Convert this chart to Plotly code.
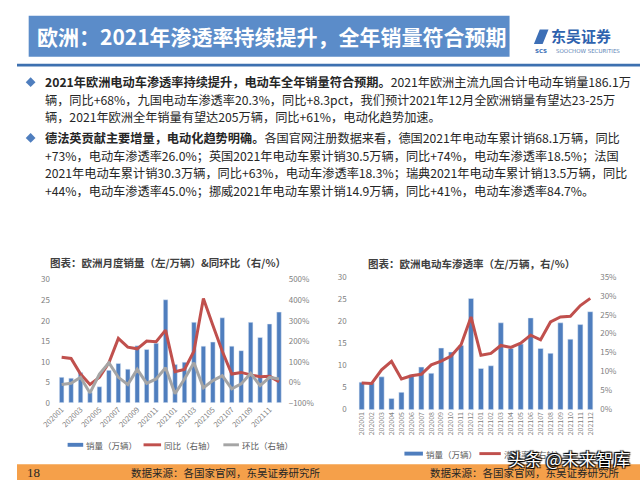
import plotly.graph_objects as go

W, H = 640, 485
def X(px): return px / W
def Y(py): return 1 - py / H

months = ["202001","202002","202003","202004","202005","202006","202007","202008","202009","202010","202011","202012",
          "202101","202102","202103","202104","202105","202106","202107","202108","202109","202110","202111","202112"]
sales = [6.2, 6.0, 7.4, 2.5, 3.9, 7.9, 9.6, 8.2, 13.9, 13.0, 14.5, 25.1,
         9.3, 9.9, 19.6, 13.8, 14.8, 20.7, 13.8, 12.7, 19.6, 15.9, 19.2, 22.1]
yoy = [122, 116, 40, -11, 24, 95, 214, 171, 163, 201, 198, 254,
       52, 63, 151, 408, 278, 151, 40, 48, 36, 27, 29, 3]
mom = [-11, -5, 24, -52, 40, 95, 24, -11, 63, -5, 16, 71,
       -56, 16, 95, -27, 8, 32, -32, -8, 43, -16, 24, 16]
penetration = [7.0, 6.9, 10.5, 12.7, 8.1, 8.9, 9.3, 11.8, 12.8, 14.1, 17.1, 24.4,
               14.3, 14.8, 16.9, 16.4, 17.5, 19.6, 18.4, 23.1, 24.4, 24.6, 27.4, 29.3]

left_ticks = months[::2]

BLUE = "#4F7EBE"
RED = "#C0504D"
GRAY = "#A5A5A5"
TICK = "#7F7F7F"
FONT = "Noto Sans CJK SC"

fig = go.Figure()
# left chart
fig.add_trace(go.Bar(x=months, y=sales, marker_color=BLUE, width=0.48, xaxis="x", yaxis="y", name="销量（万辆）"))
fig.add_trace(go.Scatter(x=months, y=yoy, mode="lines", line=dict(color=RED, width=3), xaxis="x", yaxis="y2", name="同比（右轴）"))
fig.add_trace(go.Scatter(x=months, y=mom, mode="lines", line=dict(color=GRAY, width=3), xaxis="x", yaxis="y2", name="环比（右轴）"))
# right chart
fig.add_trace(go.Bar(x=months, y=sales, marker_color=BLUE, width=0.52, xaxis="x2", yaxis="y3", name="销量（万辆）"))
fig.add_trace(go.Scatter(x=months, y=penetration, mode="lines", line=dict(color=RED, width=3), xaxis="x2", yaxis="y4", name="渗透率（右轴）"))

def ax(size=8):
    return dict(showgrid=False, zeroline=False, showline=False, ticks="",
                tickfont=dict(size=size, color=TICK, family=FONT))

fig.update_layout(
    width=W, height=H, autosize=False,
    margin=dict(l=0, r=0, t=0, b=0),
    paper_bgcolor="white", plot_bgcolor="rgba(0,0,0,0)",
    showlegend=False,
    font=dict(family=FONT, color="#333333"),
    xaxis=dict(domain=[X(41), X(274)], anchor="y", type="category", tickmode="array", tickvals=left_ticks,
               tickangle=-45, **ax(7.5)),
    yaxis=dict(domain=[Y(406), Y(280)], range=[0, 30], dtick=5, anchor="x", ticklabelstandoff=6, **ax(8)),
    yaxis2=dict(overlaying="y", side="right", range=[-100, 500], dtick=100, ticksuffix="%", anchor="x",
                ticklabelstandoff=4, **ax(8)),
    xaxis2=dict(domain=[X(349), X(594)], anchor="y3", type="category", tickmode="array", tickvals=months,
                tickangle=-90, **ax(7)),
    yaxis3=dict(domain=[Y(413), Y(277)], range=[0, 30], dtick=5, anchor="x2", ticklabelstandoff=9, **ax(8)),
    yaxis4=dict(overlaying="y3", side="right", range=[0, 35], dtick=5, ticksuffix="%", anchor="x2",
                ticklabelstandoff=4, **ax(8)),
)

shapes = []
annos = []

# title bar
shapes.append(dict(type="rect", xref="paper", yref="paper", x0=X(12), x1=X(506), y0=Y(52), y1=Y(10),
                   fillcolor="#5B8CC9", line=dict(width=0), layer="below"))
annos.append(dict(text="<b>欧洲：2021年渗透率持续提升，全年销量符合预期</b>", x=X(18), y=Y(31), xref="paper", yref="paper",
                  xanchor="left", yanchor="middle", showarrow=False, font=dict(size=21, color="white", family=FONT)))
# line under header
shapes.append(dict(type="rect", xref="paper", yref="paper", x0=0, x1=1, y0=Y(62), y1=Y(59),
                   fillcolor="#3D70B0", line=dict(width=0)))
# logo
shapes.append(dict(type="path", xref="paper", yref="paper",
                   path=f"M {X(531)} {Y(39)} L {X(537)} {Y(24)} L {X(546)} {Y(24)} L {X(540)} {Y(39)} Z",
                   fillcolor="#3D6FB6", line=dict(width=0)))
annos.append(dict(text="<b>东吴证券</b>", x=X(547), y=Y(30), xref="paper", yref="paper", xanchor="left", yanchor="middle",
                  showarrow=False, font=dict(size=15, color="#2E62AE", family=FONT)))
annos.append(dict(text="SOOCHOW SECURITIES", x=X(552), y=Y(46), xref="paper", yref="paper", xanchor="left", yanchor="middle",
                  showarrow=False, font=dict(size=5.5, color="#5B7FB5", family="DejaVu Sans")))
annos.append(dict(text="<b>SCS</b>", x=X(530), y=Y(46), xref="paper", yref="paper", xanchor="left", yanchor="middle",
                  showarrow=False, font=dict(size=5.5, color="#3D6FB6", family="DejaVu Sans")))

# bullets
lines = [
    (78, "<b>2021年欧洲电动车渗透率持续提升，电动车全年销量符合预期。</b>2021年欧洲主流九国合计电动车销量186.1万"),
    (96, "辆，同比+68%，九国电动车渗透率20.3%，同比+8.3pct，我们预计2021年12月全欧洲销量有望达23-25万"),
    (114, "辆，2021年欧洲全年销量有望达205万辆，同比+61%，电动化趋势加速。"),
    (135, "<b>德法英贡献主要增量，电动化趋势明确。</b>各国官网注册数据来看，德国2021年电动车累计销68.1万辆，同比"),
    (153, "+73%，电动车渗透率26.0%；英国2021年电动车累计销30.5万辆，同比+74%，电动车渗透率18.5%；法国"),
    (171, "2021年电动车累计销30.3万辆，同比+63%，电动车渗透率18.3%；瑞典2021年电动车累计销13.5万辆，同比"),
    (189, "+44%，电动车渗透率45.0%；挪威2021年电动车累计销14.9万辆，同比+41%，电动车渗透率84.7%。"),
]
for yy, t in lines:
    annos.append(dict(text=t, x=X(27), y=Y(yy), xref="paper", yref="paper", xanchor="left", yanchor="middle",
                      showarrow=False, font=dict(size=12.2, color="#262626", family=FONT)))
for yy in (78, 135):
    cx, cy = 14, yy
    shapes.append(dict(type="path", xref="paper", yref="paper",
                       path=f"M {X(cx-5)} {Y(cy)} L {X(cx)} {Y(cy-5)} L {X(cx+5)} {Y(cy)} L {X(cx)} {Y(cy+5)} Z",
                       fillcolor="#4F7EBE", line=dict(width=0)))

# chart titles
annos.append(dict(text="<b>图表：欧洲月度销量（左/万辆）&同环比（右/%）</b>", x=X(155), y=Y(262), xref="paper", yref="paper",
                  xanchor="center", yanchor="middle", showarrow=False, font=dict(size=10.5, color="#404040", family=FONT)))
annos.append(dict(text="<b>图表：欧洲电动车渗透率（左/万辆，右/%）</b>", x=X(467), y=Y(263), xref="paper", yref="paper",
                  xanchor="center", yanchor="middle", showarrow=False, font=dict(size=10.5, color="#404040", family=FONT)))

# manual legends
def legend_item(x0, x1, y, color, thick, label):
    shapes.append(dict(type="rect", xref="paper", yref="paper", x0=X(x0), x1=X(x1), y0=Y(y + thick / 2), y1=Y(y - thick / 2),
                       fillcolor=color, line=dict(width=0)))
    annos.append(dict(text=label, x=X(x1 + 1), y=Y(y), xref="paper", yref="paper", xanchor="left", yanchor="middle",
                      showarrow=False, font=dict(size=8.5, color="#595959", family=FONT)))

legend_item(52, 68, 449, BLUE, 4, "销量（万辆）")
legend_item(130, 148, 449, RED, 3, "同比（右轴）")
legend_item(212, 228, 449, GRAY, 3, "环比（右轴）")
legend_item(398, 417, 458, BLUE, 4, "销量（万辆）")
legend_item(475, 497, 458, RED, 3, "渗透率（右轴）")

# bottom bar
shapes.append(dict(type="rect", xref="paper", yref="paper", x0=0, x1=1, y0=0, y1=Y(469),
                   fillcolor="#F5A04A", line=dict(width=0)))
annos.append(dict(text="18", x=X(8), y=Y(477), xref="paper", yref="paper", xanchor="left", yanchor="middle",
                  showarrow=False, font=dict(size=13, color="#262626", family="Liberation Serif")))
annos.append(dict(text="数据来源：各国家官网，东吴证券研究所", x=X(115), y=Y(477), xref="paper", yref="paper", xanchor="left",
                  yanchor="middle", showarrow=False, font=dict(size=10.5, color="#262626", family=FONT)))
annos.append(dict(text="数据来源：各国家官网，东吴证券研究所", x=X(422), y=Y(477), xref="paper", yref="paper", xanchor="left",
                  yanchor="middle", showarrow=False, font=dict(size=10.5, color="#262626", family=FONT)))
# watermark
annos.append(dict(text="头条 @未来智库", x=X(567), y=Y(463), xref="paper", yref="paper", xanchor="center",
                  yanchor="middle", showarrow=False,
                  font=dict(size=17, color="white", family=FONT,
                            shadow="1px 1px 1px #000, -1px -1px 1px #000, 1px -1px 1px #000, -1px 1px 1px #000")))

fig.update_layout(shapes=shapes, annotations=annos)
fig.write_html("out.html")
